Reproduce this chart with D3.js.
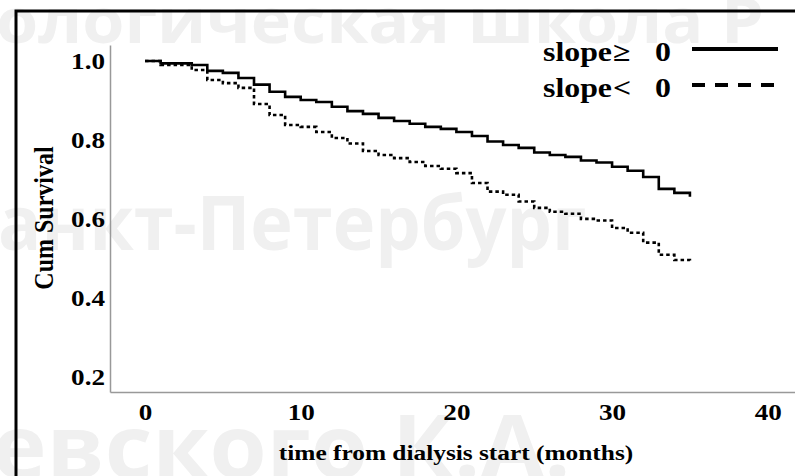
<!DOCTYPE html>
<html>
<head>
<meta charset="utf-8">
<script src="https://cdn.jsdelivr.net/npm/d3@7"></script>
<style>
  body { margin: 0; background: #fff; }
  svg { display: block; }
</style>
</head>
<body>
<svg id="chart" width="795" height="476"></svg>
<script>
// DATA
const months = [0, 1, 2, 3, 4, 5, 6, 7, 8, 9, 10, 11, 12, 13, 14, 15, 16, 17,
  18, 19, 20, 21, 22, 23, 24, 25, 26, 27, 28, 29, 30, 31, 32, 33, 34, 35];

const survivalSlopePos = [1.0, 0.994, 0.994, 0.99, 0.975, 0.97, 0.957, 0.94,
  0.922, 0.909, 0.901, 0.896, 0.884, 0.873, 0.866, 0.856, 0.848, 0.841, 0.833,
  0.828, 0.82, 0.81, 0.796, 0.787, 0.78, 0.768, 0.762, 0.757, 0.748, 0.743,
  0.732, 0.722, 0.706, 0.676, 0.666, 0.656];

const survivalSlopeNeg = [1.0, 0.99, 0.99, 0.977, 0.952, 0.944, 0.932, 0.891,
  0.863, 0.838, 0.833, 0.82, 0.805, 0.791, 0.772, 0.762, 0.754, 0.744, 0.734,
  0.727, 0.716, 0.691, 0.669, 0.661, 0.644, 0.628, 0.618, 0.613, 0.6, 0.596,
  0.577, 0.565, 0.54, 0.509, 0.496, 0.489];

const xTicks = [0, 10, 20, 30, 40];
const yTicks = [0.2, 0.4, 0.6, 0.8, 1.0];

const legendSymbols = ["\u2265", "<"];
const watermarkLines = ["ологическая школа Р", "анкт-Петербург", "евского К.А."];

// CANVAS SETUP
const svg = d3.select("#chart");
const serif = "'Liberation Serif', 'Times New Roman', serif";
const stretch = 1.18;

const x = d3.scaleLinear().domain([-2.25, 41.75]).range([110, 795]);
const y = d3.scaleLinear().domain([0.1615, 1.0405]).range([392, 45]);

// watermark (font size, baseline, horizontal scale per line)
const wmStyle = [
  { size: 62, x: -4, y: 43, sx: 1.1 },
  { size: 75, x: -2, y: 250, sx: 0.96 },
  { size: 88, x: -8, y: 478, sx: 1.05 },
];
svg.append("g")
  .attr("fill", "#f0f0f0")
  .style("font-family", "'Open Sans', 'Noto Sans', sans-serif")
  .style("font-weight", 700)
  .selectAll("text")
  .data(watermarkLines)
  .join("text")
  .attr("transform", (d, i) =>
    `translate(${wmStyle[i].x},${wmStyle[i].y}) scale(${wmStyle[i].sx},1)`)
  .style("font-size", (d, i) => wmStyle[i].size + "px")
  .text((d) => d);

// frame
svg.append("rect")
  .attr("x", 16).attr("y", 11)
  .attr("width", 820).attr("height", 500)
  .attr("fill", "none")
  .attr("stroke", "#000")
  .attr("stroke-width", 3);

// axes
const gx = svg.append("g").attr("transform", "translate(0,392)");
gx.call(d3.axisBottom(x).tickValues(xTicks).tickSize(0).tickFormat(d3.format("d")));
gx.select(".domain").attr("stroke", "#999").attr("stroke-width", 1.5);
gx.selectAll(".tick text")
  .attr("y", 0).attr("dy", null)
  .attr("transform", `translate(0,28) scale(${stretch},1)`)
  .style("font-family", serif)
  .style("font-weight", 700)
  .style("font-size", "23px")
  .attr("fill", "#000");

const gy = svg.append("g").attr("transform", "translate(110,0)");
gy.call(d3.axisLeft(y).tickValues(yTicks).tickSize(0).tickFormat(d3.format(".1f")));
gy.select(".domain").attr("stroke", "#999").attr("stroke-width", 1.5);
gy.selectAll(".tick text")
  .attr("x", 0).attr("dy", "0.34em")
  .attr("transform", `translate(-5,0) scale(${stretch},1)`)
  .style("font-family", serif)
  .style("font-weight", 700)
  .style("font-size", "23px")
  .attr("fill", "#000");

// axis titles
svg.append("text")
  .attr("transform", `translate(456,460) scale(${stretch},1)`)
  .attr("text-anchor", "middle")
  .style("font-family", serif)
  .style("font-weight", 700)
  .style("font-size", "21.5px")
  .text("time from dialysis start (months)");

svg.append("text")
  .attr("transform", "translate(53,218) rotate(-90) scale(1,1.12)")
  .attr("text-anchor", "middle")
  .style("font-family", serif)
  .style("font-weight", 700)
  .style("font-size", "24px")
  .text("Cum Survival");

// survival curves
const line = d3.line()
  .x((d) => x(d[0]))
  .y((d) => y(d[1]))
  .curve(d3.curveStepAfter);

const series = [
  { values: survivalSlopePos, dash: null },
  { values: survivalSlopeNeg, dash: "3.5,3" },
];

svg.append("g")
  .selectAll("path")
  .data(series)
  .join("path")
  .attr("d", (d) => line(months.map((m, i) => [m, d.values[i]])))
  .attr("fill", "none")
  .attr("stroke", "#000")
  .attr("stroke-width", 2.6)
  .attr("stroke-dasharray", (d) => d.dash);

// legend
const legendRows = svg.append("g")
  .selectAll("g")
  .data(legendSymbols)
  .join("g")
  .attr("transform", (d, i) => `translate(0,${i * 36})`);

const legendText = legendRows.append("text")
  .attr("transform", `translate(543,61) scale(${stretch},1)`)
  .style("font-family", serif)
  .style("font-weight", 700)
  .style("font-size", "27px");
legendText.append("tspan").attr("x", 0).text("slope");
legendText.append("tspan").attr("x", (613 - 543) / stretch).text((d) => d);
legendText.append("tspan").attr("x", (655 - 543) / stretch).text("0");

legendRows.append("line")
  .attr("x1", 692).attr("x2", 778)
  .attr("y1", 49).attr("y2", 49)
  .attr("stroke", "#000")
  .attr("stroke-width", 4)
  .attr("stroke-dasharray", (d, i) => (i ? "13,10" : null));
</script>
</body>
</html>
